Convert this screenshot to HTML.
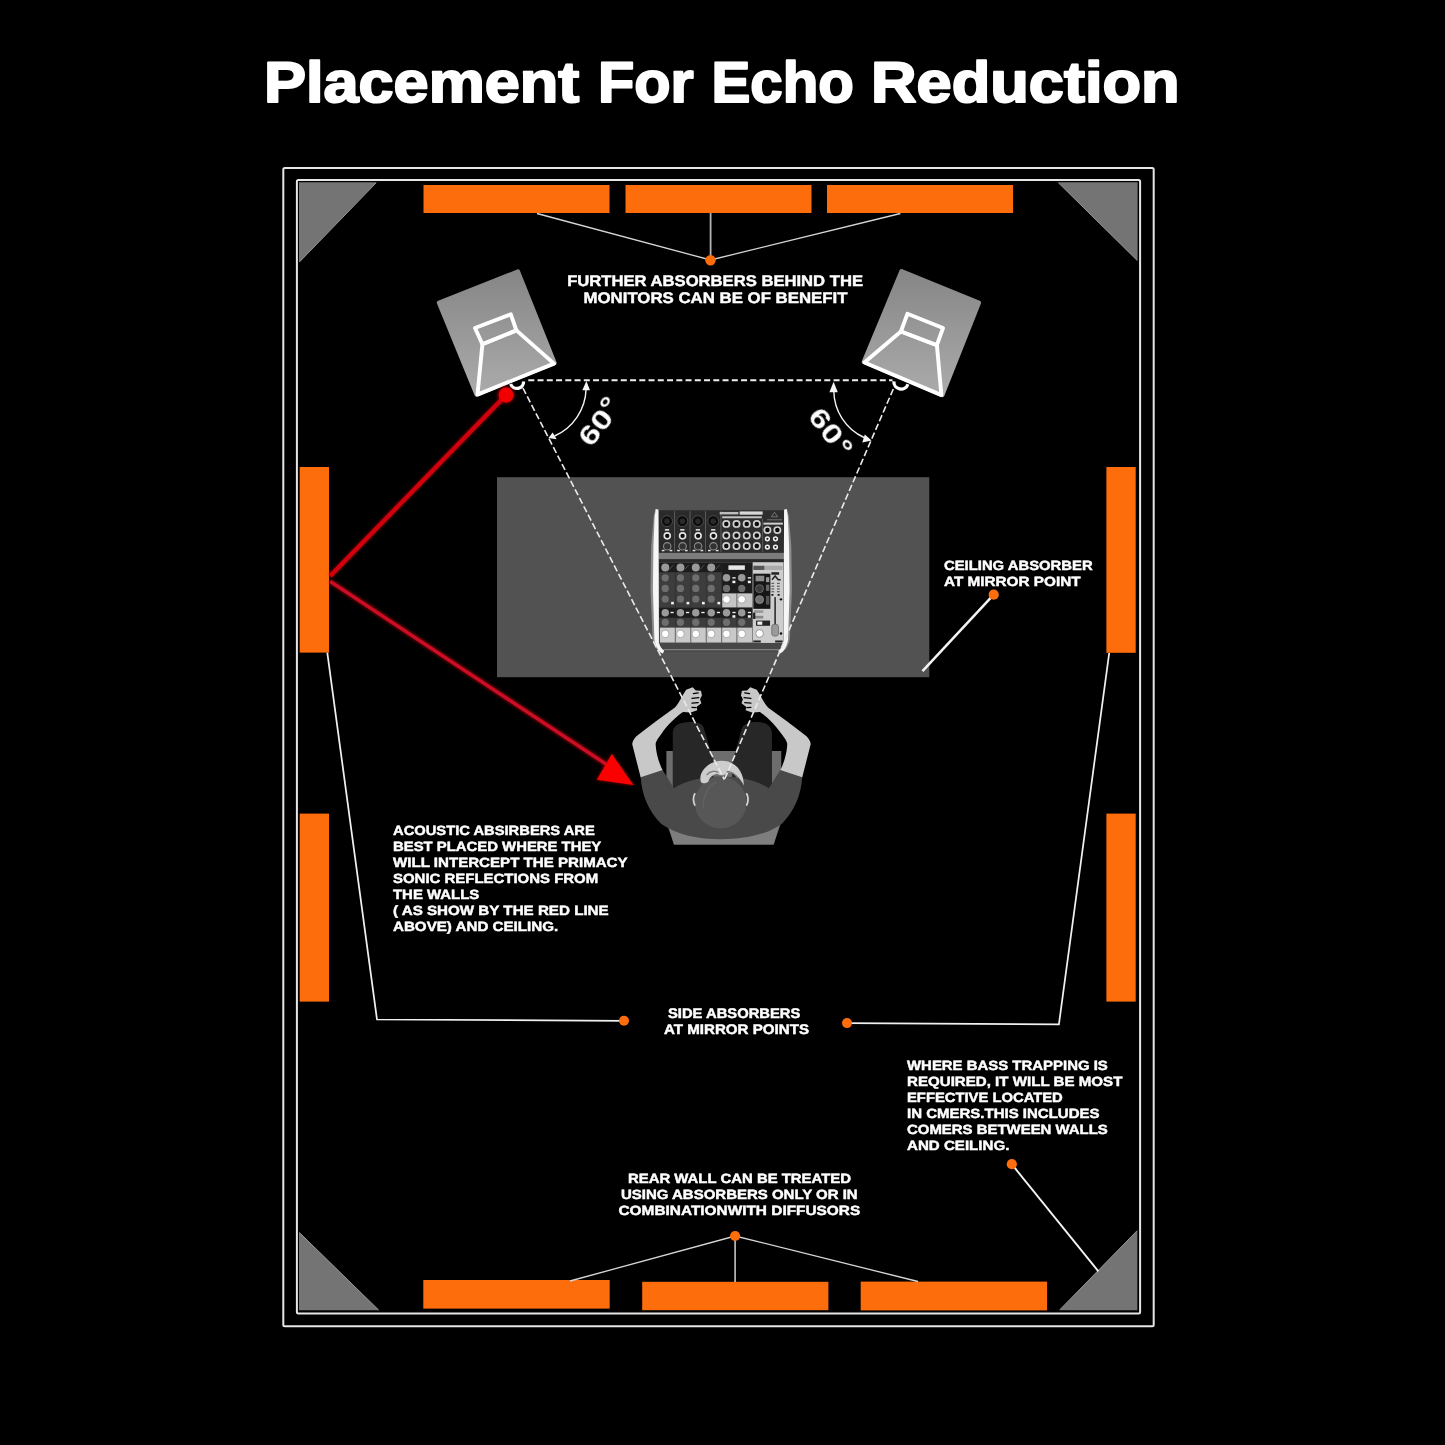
<!DOCTYPE html>
<html lang="en">
<head>
<meta charset="utf-8">
<title>Placement For Echo Reduction</title>
<style>
html,body{margin:0;padding:0;background:#000;}
body{width:1445px;height:1445px;overflow:hidden;position:relative;}
svg{display:block;position:absolute;left:0;top:0;}
svg text{text-rendering:geometricPrecision;}
.noaa{opacity:0.999;}
text{font-family:"Liberation Sans",sans-serif;font-weight:bold;fill:#fff;}
.t{font-size:15.4px;stroke:#fff;stroke-width:0.45px;}
.s{font-size:13.4px;stroke:#fff;stroke-width:0.45px;}
.ln{stroke:#ececec;stroke-width:1.8;fill:none;}
.dash{stroke:#ececec;stroke-width:2;fill:none;stroke-dasharray:6.6 3.2;}
.or{fill:#fe6d0c;}
</style>
</head>
<body>
<svg width="1445" height="1445" viewBox="0 0 1445 1445">
<defs>
<linearGradient id="spk" x1="0" y1="0" x2="0" y2="1">
<stop offset="0" stop-color="#868686"/><stop offset="1" stop-color="#ababab"/>
</linearGradient>
<filter id="glow" x="-20%" y="-20%" width="140%" height="140%"><feGaussianBlur stdDeviation="1.6"/></filter>
<filter id="msoft" x="-5%" y="-5%" width="110%" height="110%"><feGaussianBlur stdDeviation="4.5"/></filter>
<filter id="soft" x="-5%" y="-5%" width="110%" height="110%"><feGaussianBlur stdDeviation="0.5"/></filter>
</defs>
<rect width="1445" height="1445" fill="#000"/>

<!-- TITLE -->
<text id="title" class="noaa" y="102.2" font-size="57.5" stroke="#fff" stroke-width="2" stroke-linejoin="round"><tspan x="263.9" textLength="315.4" lengthAdjust="spacingAndGlyphs">Placement</tspan> <tspan x="598" textLength="95.7" lengthAdjust="spacingAndGlyphs">For</tspan> <tspan x="711.5" textLength="142.3" lengthAdjust="spacingAndGlyphs">Echo</tspan> <tspan x="870.9" textLength="308.8" lengthAdjust="spacingAndGlyphs">Reduction</tspan></text>

<!-- FRAME -->
<rect x="283.3" y="168.1" width="870.4" height="1158.2" rx="1.5" fill="none" stroke="#e6e6e6" stroke-width="2"/>
<rect x="296.9" y="180" width="843.2" height="1133.4" rx="1.5" fill="none" stroke="#e6e6e6" stroke-width="2"/>

<!-- CORNER TRAPS -->
<g fill="#747474">
<polygon points="299,182.3 376.5,182.3 299,262.5"/>
<polygon points="1058,182.3 1137.6,182.3 1137.6,261"/>
<polygon points="299,1232 379,1310.3 299,1310.3"/>
<polygon points="1137.4,1230.2 1137.4,1310.2 1059.4,1310.2"/>
</g>
<g stroke="#959595" stroke-width="1" fill="none">
<path d="M376.2,182.8 L299.4,262 M1058.4,182.8 L1137.2,260.4 M299.4,1232.6 L378.6,1310 M1137,1230.8 L1059.8,1309.8"/>
</g>

<!-- ABSORBERS -->
<rect class="or" x="423.5" y="185" width="186" height="28"/>
<rect class="or" x="625.5" y="185" width="186" height="28"/>
<rect class="or" x="827" y="185" width="186" height="28"/>
<rect class="or" x="299.7" y="467" width="29.3" height="185.6"/>
<rect class="or" x="1106.4" y="467" width="29.3" height="185.8"/>
<rect class="or" x="299.7" y="813.6" width="29.3" height="188"/>
<rect class="or" x="1106.4" y="813.6" width="29.3" height="188"/>
<rect class="or" x="423.3" y="1280" width="186.4" height="28.6"/>
<rect class="or" x="642.2" y="1281.8" width="186.2" height="28.4"/>
<rect class="or" x="860.7" y="1281.6" width="186.4" height="28.8"/>

<!-- LEADER LINES -->
<g fill="none" stroke="#d6d6d6" stroke-width="1.3">
<path d="M537,213.5 L710.5,260 L900.4,213.5"/>
<path d="M710.6,213 V260" stroke="#b4b4b4" stroke-width="1.8"/>
<path d="M570,1281 L735.1,1236 L918,1281.5"/>
<path d="M735.1,1236 V1282" stroke="#c4c4c4" stroke-width="1.6"/>
</g>
<g fill="none" stroke="#f0f0f0" stroke-width="1.75">
<path d="M327.3,652.6 L377,1019.5 L624,1020.8"/>
<path d="M1109.2,653 L1058.9,1024.4 L847,1023.2"/>
</g>

<!-- DESK -->
<rect x="497" y="477.2" width="432.3" height="200" fill="#525252"/>
<g stroke="#f4f4f4" stroke-width="2.5" fill="none">
<path d="M993.7,594.7 L922.5,671.2"/>
<path d="M1011.8,1164.2 L1098.4,1271.4" stroke-width="1.9"/>
</g>
<g class="or">
<circle cx="710.5" cy="260.3" r="5.2"/>
<circle cx="993.7" cy="594.7" r="5.1"/>
<circle cx="624" cy="1020.7" r="5"/>
<circle cx="847" cy="1023.1" r="5"/>
<circle cx="735.1" cy="1236" r="5.1"/>
<circle cx="1011.8" cy="1164.2" r="5.1"/>
</g>

<!-- MIXER -->
<g transform="translate(630,490) scale(0.12457)" filter="url(#msoft)">
<rect x="225" y="160" width="1015" height="1135" fill="#3b3b3b"/>
<!-- top panel -->
<rect x="232" y="165" width="1003" height="338" fill="#2d2d2d"/>
<g fill="#2a2a2a">
<rect x="240" y="175" width="112" height="320"/><rect x="364" y="175" width="112" height="320"/><rect x="488" y="175" width="112" height="320"/><rect x="612" y="175" width="112" height="320"/>
</g>
<g stroke="#777" stroke-width="5" fill="none">
<path d="M358,170 V500 M482,170 V500 M606,170 V500 M730,170 V500 M1065,230 V500"/>
</g>
<g fill="#0c0c0c" stroke="#4a4a4a" stroke-width="8">
<circle cx="297" cy="250" r="44"/><circle cx="420" cy="250" r="44"/><circle cx="545" cy="250" r="44"/><circle cx="668" cy="250" r="44"/>
</g>
<g fill="#2c2c2c">
<circle cx="297" cy="250" r="22"/><circle cx="420" cy="250" r="22"/><circle cx="545" cy="250" r="22"/><circle cx="668" cy="250" r="22"/>
</g>
<g fill="#e8e8e8">
<rect x="280" y="314" width="34" height="12"/><rect x="403" y="314" width="34" height="12"/><rect x="528" y="314" width="34" height="12"/><rect x="651" y="314" width="34" height="12"/>
</g>
<g fill="#0a0a0a" stroke="#e6e6e6" stroke-width="13">
<circle cx="299" cy="368" r="24"/><circle cx="422" cy="368" r="24"/><circle cx="547" cy="368" r="24"/><circle cx="670" cy="368" r="24"/>
</g>
<g fill="#333" stroke="#8a8a8a" stroke-width="9">
<circle cx="299" cy="452" r="30"/><circle cx="422" cy="452" r="30"/><circle cx="547" cy="452" r="30"/><circle cx="670" cy="452" r="30"/>
</g>
<g fill="#ddd">
<rect x="255" y="480" width="22" height="12"/><rect x="318" y="480" width="22" height="12"/><rect x="378" y="480" width="22" height="12"/><rect x="441" y="480" width="22" height="12"/><rect x="503" y="480" width="22" height="12"/><rect x="566" y="480" width="22" height="12"/><rect x="626" y="480" width="22" height="12"/><rect x="689" y="480" width="22" height="12"/>
</g>
<!-- label -->
<rect x="720" y="176" width="150" height="20" fill="#bdbdbd"/>
<rect x="880" y="172" width="185" height="26" fill="#d8d8d8"/>
<rect x="740" y="211" width="318" height="16" fill="#c4c4c4"/>
<rect x="1072" y="262" width="155" height="16" fill="#d0d0d0"/>
<path d="M1160,178 L1185,215 L1135,215 Z" fill="none" stroke="#888" stroke-width="6"/>
<rect x="1100" y="234" width="120" height="10" fill="#666"/>
<!-- jack grid -->
<g fill="#0a0a0a" stroke="#cfcfcf" stroke-width="14">
<circle cx="773" cy="272" r="25"/><circle cx="855" cy="272" r="25"/><circle cx="937" cy="272" r="25"/><circle cx="1018" cy="272" r="25"/>
<circle cx="773" cy="365" r="25"/><circle cx="855" cy="365" r="25"/><circle cx="937" cy="365" r="25"/><circle cx="1018" cy="365" r="25"/>
<circle cx="773" cy="450" r="25"/><circle cx="855" cy="450" r="25"/><circle cx="937" cy="450" r="25"/><circle cx="1018" cy="450" r="25"/>
<circle cx="1103" cy="322" r="25"/><circle cx="1183" cy="322" r="25"/>
</g>
<g fill="#222" stroke="#f0f0f0" stroke-width="12">
<circle cx="1103" cy="392" r="15"/><circle cx="1168" cy="392" r="15"/><circle cx="1103" cy="458" r="15"/><circle cx="1168" cy="458" r="15"/>
</g>
<!-- band -->
<rect x="225" y="505" width="1015" height="55" fill="#7b7b7b"/>
<rect x="225" y="555" width="1015" height="22" fill="#2b2b2b"/>
<!-- lower panel -->
<rect x="235" y="578" width="747" height="650" fill="#3e3e3e"/>
<rect x="235" y="585" width="505" height="75" fill="#1a1a1a"/>
<rect x="740" y="585" width="242" height="245" fill="#1c1c1c"/>
<rect x="235" y="945" width="747" height="80" fill="#1a1a1a"/>
<rect x="740" y="830" width="242" height="112" fill="#c6c6c6"/>
<rect x="240" y="1105" width="742" height="120" fill="#c9c9c9"/>
<g stroke="#2a2a2a" stroke-width="5">
<path d="M364,660 V1225 M488,660 V1225 M612,660 V1225 M736,585 V1225 M858,830 V1225"/>
</g>
<rect x="790" y="605" width="132" height="36" fill="#e6e6e6"/>
<g fill="#9a9a9a">
<circle cx="283" cy="622" r="32"/><circle cx="405" cy="622" r="32"/><circle cx="528" cy="622" r="32"/><circle cx="652" cy="622" r="32"/>
<circle cx="283" cy="985" r="30"/><circle cx="405" cy="985" r="30"/><circle cx="528" cy="985" r="30"/><circle cx="652" cy="985" r="30"/><circle cx="775" cy="985" r="30"/><circle cx="897" cy="985" r="30"/>
<circle cx="775" cy="705" r="30"/><circle cx="897" cy="705" r="30"/>
</g>
<g fill="#6e6e6e">
<circle cx="283" cy="705" r="29"/><circle cx="405" cy="705" r="29"/><circle cx="528" cy="705" r="29"/><circle cx="652" cy="705" r="29"/>
<circle cx="283" cy="790" r="29"/><circle cx="405" cy="790" r="29"/><circle cx="528" cy="790" r="29"/><circle cx="652" cy="790" r="29"/>
<circle cx="283" cy="875" r="29"/><circle cx="405" cy="875" r="29"/><circle cx="528" cy="875" r="29"/><circle cx="652" cy="875" r="29"/>
<circle cx="775" cy="790" r="29"/><circle cx="897" cy="790" r="29"/>
<circle cx="283" cy="1062" r="29"/><circle cx="405" cy="1062" r="29"/><circle cx="528" cy="1062" r="29"/><circle cx="652" cy="1062" r="29"/><circle cx="775" cy="1062" r="29"/><circle cx="897" cy="1062" r="29"/>
</g>
<g fill="#f2f2f2">
<rect x="330" y="898" width="22" height="20"/><rect x="454" y="898" width="22" height="20"/><rect x="578" y="898" width="22" height="20"/><rect x="702" y="898" width="22" height="20"/>
<rect x="822" y="728" width="24" height="20"/><rect x="946" y="728" width="24" height="20"/>
<rect x="822" y="1005" width="24" height="20"/><rect x="946" y="1005" width="24" height="20"/>
<rect x="325" y="978" width="26" height="11"/><rect x="449" y="978" width="26" height="11"/><rect x="573" y="978" width="26" height="11"/><rect x="697" y="978" width="26" height="11"/><rect x="822" y="978" width="26" height="11"/><rect x="946" y="978" width="26" height="11"/>
<rect x="822" y="700" width="26" height="11"/><rect x="946" y="700" width="26" height="11"/>
</g>
<g stroke="#555" stroke-width="7">
<path d="M315,640 L350,600 M438,640 L473,600 M562,640 L597,600 M686,640 L721,600"/>
</g>
<g fill="#fff" stroke="#aaa" stroke-width="8">
<circle cx="283" cy="1155" r="31"/><circle cx="405" cy="1155" r="31"/><circle cx="528" cy="1155" r="31"/><circle cx="652" cy="1155" r="31"/><circle cx="775" cy="1155" r="31"/><circle cx="897" cy="1155" r="31"/>
<circle cx="775" cy="878" r="31"/><circle cx="897" cy="878" r="31"/>
</g>
<!-- right section -->
<rect x="985" y="580" width="247" height="648" fill="#cdcdcd"/>
<rect x="990" y="608" width="90" height="34" fill="#555"/>
<rect x="1085" y="608" width="140" height="34" fill="#aaa"/>
<rect x="990" y="672" width="137" height="282" fill="#151515"/>
<rect x="1008" y="688" width="70" height="45" fill="#8a8a8a"/>
<circle cx="1040" cy="792" r="32" fill="#3a3a3a" stroke="#777" stroke-width="6"/>
<circle cx="1040" cy="880" r="32" fill="#707070" stroke="#999" stroke-width="6"/>
<rect x="1092" y="700" width="26" height="40" fill="#999"/>
<rect x="1092" y="760" width="26" height="50" fill="#666"/>
<rect x="1092" y="850" width="26" height="70" fill="#555"/>
<rect x="1135" y="660" width="62" height="20" fill="#222"/>
<path d="M1140,720 L1165,690 L1190,720 L1210,720" fill="none" stroke="#222" stroke-width="12"/>
<g fill="#555">
<rect x="1135" y="745" width="22" height="9"/><rect x="1180" y="745" width="22" height="9"/>
<rect x="1135" y="768" width="22" height="9"/><rect x="1180" y="768" width="22" height="9"/>
<rect x="1135" y="790" width="22" height="9"/><rect x="1180" y="790" width="22" height="9"/>
<rect x="1135" y="812" width="22" height="9"/><rect x="1180" y="812" width="22" height="9"/>
</g>
<g fill="#111">
<rect x="1135" y="835" width="16" height="14"/><rect x="1185" y="835" width="16" height="14"/>
<circle cx="1212" cy="878" r="10"/><circle cx="1212" cy="1152" r="10"/>
</g>
<rect x="1158" y="860" width="14" height="300" fill="#3a3a3a"/>
<rect x="1138" y="1078" width="54" height="95" rx="20" fill="#9a9a9a" stroke="#666" stroke-width="6"/>
<rect x="995" y="965" width="75" height="22" fill="#999"/><rect x="995" y="1010" width="75" height="22" fill="#888"/>
<rect x="988" y="985" width="18" height="50" fill="#222"/>
<rect x="1012" y="1048" width="112" height="42" fill="#222"/>
<rect x="1022" y="1056" width="40" height="26" fill="#eee"/>
<circle cx="1040" cy="1152" r="31" fill="#fff" stroke="#999" stroke-width="8"/>
<rect x="990" y="1208" width="60" height="16" fill="#222"/><rect x="1165" y="1208" width="60" height="16" fill="#222"/>
<!-- bottom edge -->
<rect x="235" y="1228" width="1000" height="62" fill="#474747"/>
<rect x="265" y="1278" width="940" height="9" fill="#8d8d8d"/>
<!-- rails -->
<path d="M205,152 L228,158 L232,1225 C240,1260 258,1280 275,1292 L262,1312 C225,1300 195,1260 182,1200 L165,800 L170,450 L190,210 Z" fill="#8c8c8c"/>
<path d="M207,152 L228,158 L232,1225 C240,1260 258,1280 275,1292 L262,1312 C232,1300 205,1260 196,1200 L184,800 L188,450 L198,210 Z" fill="#f6f6f6"/>
<path d="M1260,152 L1237,158 L1233,1225 C1225,1260 1207,1280 1190,1292 L1203,1312 C1240,1300 1270,1260 1283,1200 L1300,800 L1295,450 L1275,210 Z" fill="#8c8c8c"/>
<path d="M1258,152 L1237,158 L1233,1225 C1225,1260 1207,1280 1190,1292 L1203,1312 C1233,1300 1260,1260 1269,1200 L1281,800 L1277,450 L1267,210 Z" fill="#f6f6f6"/>
</g>


<!-- PERSON -->
<g transform="translate(620,670) scale(0.13841)">
<!-- chair -->
<path d="M335,585 H1165 V1100 L1110,1260 H390 L335,1100 Z" fill="#6d6d6d"/>
<path d="M350,1120 H1150 L1110,1260 H390 Z" fill="#7e7e7e"/>
<!-- legs -->
<path d="M381,860 V455 C381,400 430,376 505,376 C560,376 592,386 604,415 L674,645 V860 Z" fill="#272727"/>
<path d="M1098,860 V460 C1098,402 1052,376 990,376 C930,376 893,390 880,422 L810,672 V860 Z" fill="#272727"/>
<!-- arms -->
<path d="M150,778 L88,535 C92,505 108,488 130,470 C220,400 300,340 392,275 C420,250 440,200 478,142 L525,125 L548,148 L585,150 L592,185 L578,212 L588,240 L555,265 L558,290 L512,307 L455,303 C400,340 340,400 300,460 C270,500 255,520 258,545 C262,610 285,680 310,728 Z" fill="#c8c8c8"/>
<path d="M1316,778 L1378,535 C1374,505 1358,488 1336,470 C1246,400 1166,340 1074,275 C1046,250 1026,200 988,142 L941,125 L918,148 L881,150 L874,185 L888,212 L878,240 L911,265 L908,290 L954,307 L1011,303 C1066,340 1126,400 1166,460 C1196,500 1211,520 1208,545 C1204,610 1181,680 1156,728 Z" fill="#c8c8c8"/>
<g stroke="#000" stroke-width="9" fill="none" stroke-linecap="round">
<path d="M530,170 L565,165 M520,205 L570,200 M520,240 L565,235 M520,270 L550,272"/>
<path d="M936,170 L901,165 M946,205 L896,200 M946,240 L901,235 M946,270 L916,272"/>
</g>
<!-- torso -->
<path d="M150,775 L308,722 L390,855 C470,800 600,770 733,770 C866,770 996,800 1076,855 L1158,722 L1316,775 C1310,900 1260,1020 1170,1110 C1060,1190 900,1222 733,1222 C566,1222 406,1190 296,1110 C206,1020 156,900 150,775 Z" fill="#494949"/>
<!-- head -->
<ellipse cx="728" cy="958" rx="188" ry="186" fill="#575757"/>
<path d="M600,1000 C600,900 640,830 700,810" fill="none" stroke="#626262" stroke-width="10"/>
<path d="M585,810 C560,740 640,655 735,655 C830,655 895,730 895,835 C860,765 810,735 770,740 C760,760 740,770 700,750 C660,760 640,790 640,805 C620,820 595,825 585,810 Z" fill="#cdcdcd"/>
<path d="M625,760 C650,730 690,725 710,740 M770,735 C800,730 830,750 850,780" fill="none" stroke="#7a7a7a" stroke-width="9"/>
<path d="M540,895 C528,920 528,950 540,975" fill="none" stroke="#d4d4d4" stroke-width="13" stroke-linecap="round"/>
<path d="M916,895 C928,920 928,950 916,975" fill="none" stroke="#d4d4d4" stroke-width="13" stroke-linecap="round"/>
</g>


<!-- SPEAKERS -->
<polygon points="439.0,302.7 517.9,271.6 554.4,362.9 476.6,394.4" fill="url(#spk)" stroke="url(#spk)" stroke-width="4.4" stroke-linejoin="round"/>
<g fill="none" stroke="#fff" stroke-width="3.9" stroke-linejoin="round">
<polygon points="475.0,328.0 510.8,314.3 516.4,330.4 482.4,344.2"/>
<polygon points="482.4,344.2 516.4,330.4 554.0,363.6 477.5,394.6"/>
</g>
<polygon points="901.6,271.2 978.9,302.7 942.3,395.0 863.9,361.8" fill="url(#spk)" stroke="url(#spk)" stroke-width="4.4" stroke-linejoin="round"/>
<g fill="none" stroke="#fff" stroke-width="3.9" stroke-linejoin="round">
<polygon points="907.4,313.8 943.0,328.0 936.9,345.2 900.9,331.5"/>
<polygon points="900.9,331.5 936.9,345.2 941.4,395.1 864.4,362.5"/>
</g>
<path d="M510.6,384 A6.7,6.7 0 0 0 523.6,381.5" fill="none" stroke="#fff" stroke-width="3.3"/>
<path d="M893.9,381.4 A7.2,7.2 0 0 0 907.9,384.2" fill="none" stroke="#fff" stroke-width="3.3"/>

<!-- DASHED -->
<path d="M527,380.2 H892.5" fill="none" stroke="#eee" stroke-width="2.1" stroke-dasharray="6 3.25" stroke-dashoffset="-1.3"/>
<path d="M522.9,388 L724.4,779.6" fill="none" stroke="#eaeaea" stroke-width="1.6" stroke-dasharray="6.6 2.9"/>
<path d="M893.3,389 L724.4,779.6" fill="none" stroke="#eaeaea" stroke-width="1.6" stroke-dasharray="6.6 2.9"/>

<!-- ANGLES -->
<g fill="none" stroke="#f4f4f4" stroke-width="1.4">
<path d="M586.1,389 A53.2,53.2 0 0 1 554.5,436"/>
<path d="M833.8,391 A52,52 0 0 0 864,437.5"/>
</g>
<g fill="#f6f6f6">
<polygon points="586.4,380.9 582.3,390.2 590,390.2"/>
<polygon points="548.4,437.9 552.7,432.6 556.6,439.2"/>
<polygon points="833.6,381.8 829.4,392.2 837.8,392.2"/>
<polygon points="871.6,440.4 864.8,434.6 862.3,442.6"/>
</g>
<g class="noaa" font-size="26.5" style="font-weight:normal">
<text transform="translate(591,448.2) rotate(-52) scale(1.3,1)">60<tspan dy="-3">°</tspan></text>
<text transform="translate(807,416.6) rotate(52) scale(1.3,1)">60<tspan dy="-0.5" dx="1.5">°</tspan></text>
</g>

<!-- RED -->
<g filter="url(#glow)" opacity="0.6" stroke="#e00010" fill="#e00010">
<path d="M505.8,395.2 L330.2,576 M330.2,581.4 L606,764.2" fill="none" stroke-width="5"/>
<circle cx="506" cy="395" r="8.2"/>
<polygon points="633.4,785.1 611.8,754 596.9,779.7"/>
</g>
<g filter="url(#soft)">
<path d="M505.8,395.2 L330.2,576" fill="none" stroke="#d2000f" stroke-width="4.2"/>
<path d="M330.2,581.4 L606,764.2" fill="none" stroke="#cc0f26" stroke-width="3.3"/>
<circle cx="506" cy="395" r="7.4" fill="#f00000"/>
<polygon points="633.4,785.1 611.8,754 596.9,779.7" fill="#fb0000"/>
</g>

<!-- TEXT -->
<g class="s noaa">
<text class="t" x="567.2" y="286.2" textLength="295.8" lengthAdjust="spacingAndGlyphs">FURTHER ABSORBERS BEHIND THE</text>
<text class="t" x="583.5" y="303.4" textLength="264" lengthAdjust="spacingAndGlyphs">MONITORS CAN BE OF BENEFIT</text>
<text x="944" y="569.8" textLength="148.6" lengthAdjust="spacingAndGlyphs">CEILING ABSORBER</text>
<text x="944" y="585.7" textLength="136.6" lengthAdjust="spacingAndGlyphs">AT MIRROR POINT</text>

<text x="393" y="834.6" textLength="201.8" lengthAdjust="spacingAndGlyphs">ACOUSTIC ABSIRBERS ARE</text>
<text x="393" y="850.6" textLength="208.3" lengthAdjust="spacingAndGlyphs">BEST PLACED WHERE THEY</text>
<text x="393" y="866.6" textLength="234.6" lengthAdjust="spacingAndGlyphs">WILL INTERCEPT THE PRIMACY</text>
<text x="393" y="882.6" textLength="205.2" lengthAdjust="spacingAndGlyphs">SONIC REFLECTIONS FROM</text>
<text x="393" y="898.6" textLength="86.3" lengthAdjust="spacingAndGlyphs">THE WALLS</text>
<text x="393" y="914.6" textLength="215.7" lengthAdjust="spacingAndGlyphs">( AS SHOW BY THE RED LINE</text>
<text x="393" y="930.6" textLength="165.2" lengthAdjust="spacingAndGlyphs">ABOVE) AND CEILING.</text>

<text x="668" y="1018.2" font-size="13.9" textLength="132.4" lengthAdjust="spacingAndGlyphs">SIDE ABSORBERS</text>
<text x="664" y="1034.3" font-size="13.9" textLength="145" lengthAdjust="spacingAndGlyphs">AT MIRROR POINTS</text>

<text x="907" y="1069.8" textLength="200.8" lengthAdjust="spacingAndGlyphs">WHERE BASS TRAPPING IS</text>
<text x="907" y="1085.8" textLength="215.4" lengthAdjust="spacingAndGlyphs">REQUIRED, IT WILL BE MOST</text>
<text x="907" y="1101.8" textLength="155.8" lengthAdjust="spacingAndGlyphs">EFFECTIVE LOCATED</text>
<text x="907" y="1117.9" textLength="192.5" lengthAdjust="spacingAndGlyphs">IN CMERS.THIS INCLUDES</text>
<text x="907" y="1133.9" textLength="200.8" lengthAdjust="spacingAndGlyphs">COMERS BETWEEN WALLS</text>
<text x="907" y="1149.9" textLength="102.4" lengthAdjust="spacingAndGlyphs">AND CEILING.</text>

<text x="628" y="1182.9" textLength="223" lengthAdjust="spacingAndGlyphs">REAR WALL CAN BE TREATED</text>
<text x="621" y="1199.0" textLength="236.7" lengthAdjust="spacingAndGlyphs">USING ABSORBERS ONLY OR IN</text>
<text x="618.5" y="1215.2" textLength="241.7" lengthAdjust="spacingAndGlyphs">COMBINATIONWITH DIFFUSORS</text>
</g>
</svg>
</body>
</html>
